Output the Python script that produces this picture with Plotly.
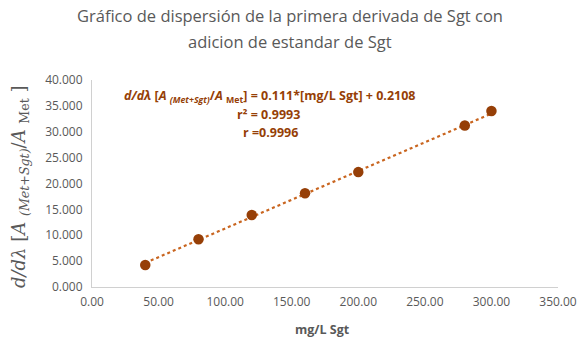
import plotly.graph_objects as go

# Standard additions: concentration of Sgt (mg/L) vs first-derivative ratio
conc_mg_l = [40, 80, 120, 160, 200, 280, 300]
deriv_ratio = [4.25, 9.22, 13.9, 18.1, 22.2, 31.2, 34.0]

# Linear fit reported on the chart
slope = 0.111
intercept = 0.2108
r_squared = 0.9993
r_value = 0.9996

x_ticks = [0, 50, 100, 150, 200, 250, 300, 350]
y_ticks = [0, 5, 10, 15, 20, 25, 30, 35, 40]

title_lines = ["Gráfico de dispersión de la primera derivada de Sgt con",
               "adicion de estandar de Sgt"]

marker_color = "#963f07"
trend_color = "#c9651f"
text_gray = "#595959"

fit_x = [min(conc_mg_l), max(conc_mg_l)]
fit_y = [slope * v + intercept for v in fit_x]

fig = go.Figure()
fig.add_trace(go.Scatter(
    x=fit_x, y=fit_y, mode="lines",
    line=dict(color=trend_color, width=2.2, dash="dot"),
    hoverinfo="skip", showlegend=False,
))
fig.add_trace(go.Scatter(
    x=conc_mg_l, y=deriv_ratio, mode="markers",
    marker=dict(color=marker_color, size=10.5, line=dict(width=0)),
    showlegend=False,
))

fig.update_layout(
    width=578, height=338,
    margin=dict(l=92, r=20, t=80, b=51),
    paper_bgcolor="white", plot_bgcolor="white",
    font=dict(family="Open Sans, Lato, sans-serif", color=text_gray),
    xaxis=dict(
        range=[0, 350], tickvals=x_ticks, tickformat=".2f",
        showgrid=False, zeroline=False, automargin=False,
        showline=True, linecolor="#d0d0d0", linewidth=1,
        ticks="", ticklabelstandoff=4,
        tickfont=dict(size=12, color=text_gray),
    ),
    yaxis=dict(
        range=[0, 40], tickvals=y_ticks, tickformat=".3f",
        showgrid=False, zeroline=False, automargin=False,
        showline=True, linecolor="#d0d0d0", linewidth=1,
        ticks="", ticklabelstandoff=6,
        tickfont=dict(size=12, color=text_gray),
    ),
)

def px_x(xpx):
    return (xpx - 92) / 466

def px_y(ypx):
    return (287 - ypx) / 207

# Two-line chart title
for line, ypx in zip(title_lines, [16, 41]):
    fig.add_annotation(
        text=line, xref="paper", yref="paper", x=px_x(290), y=px_y(ypx),
        xanchor="center", yanchor="middle", showarrow=False,
        font=dict(family="Open Sans, sans-serif", size=16.5, color=text_gray),
    )

# X-axis title
fig.add_annotation(
    text="<b>mg/L Sgt</b>", xref="paper", yref="paper", x=px_x(322), y=px_y(329),
    xanchor="center", yanchor="middle", showarrow=False,
    font=dict(family="Open Sans, sans-serif", size=12.5, color=text_gray),
)

# Y-axis title drawn as rotated annotation
fig.add_annotation(
    text="<i>d/dλ</i> [<i>A</i> <sub><i>(Met+Sgt)</i></sub>/<i>A</i> <sub>Met</sub> ]",
    xref="paper", yref="paper", x=px_x(20), y=px_y(187),
    xanchor="center", yanchor="middle", textangle=-90, showarrow=False,
    font=dict(family="DejaVu Serif, serif", size=18, color=text_gray),
)

# Regression equation and coefficients
eq_lines = [
    f"<b><i>d/dλ</i> [<i>A</i> <sub><i>(Met+Sgt)</i></sub>/<i>A</i> <sub>Met</sub>] = "
    f"{slope}*[mg/L Sgt] + {intercept}</b>",
    f"<b>r² = {r_squared}</b>",
    f"<b>r ={r_value}</b>",
]
for line, xpx, ypx in zip(eq_lines, [269, 268, 270], [96, 114, 132]):
    fig.add_annotation(
        text=line, xref="paper", yref="paper", x=px_x(xpx), y=px_y(ypx),
        xanchor="center", yanchor="middle", showarrow=False,
        font=dict(family="Open Sans, sans-serif", size=12.5, color=marker_color),
    )

fig.write_html("out.html")
